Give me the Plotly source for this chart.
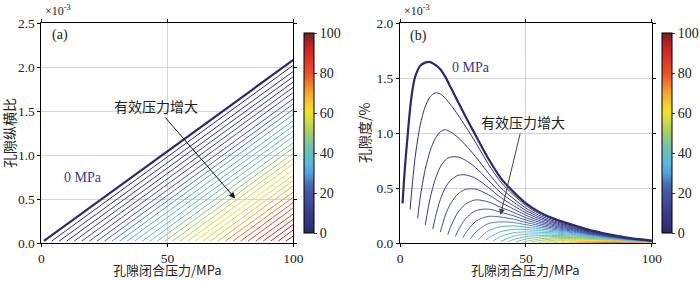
import plotly.graph_objects as go
from plotly.colors import sample_colorscale

# ---------------- data ----------------
eff_pressure = [0, 3, 6, 9, 12, 15, 18, 21, 24, 27, 30, 33, 36, 39, 42, 45, 48, 51,
                54, 57, 60, 63, 66, 69, 72, 75, 78, 81, 84, 87, 90, 93, 96, 99]
start_pc = [1, 4, 7, 10, 13, 16, 19, 22, 25, 28, 31, 34, 37, 40, 43, 46, 49, 52,
            55, 58, 61, 64, 67, 70, 73, 76, 79, 82, 85, 88, 91, 94, 97, 100]

# (a) aspect ratio (x1e-3): value at start_pc and at Pc = 100
alpha_start = [0.025, 0.021, 0.021, 0.021, 0.021, 0.021, 0.021, 0.021, 0.021,
               0.021, 0.021, 0.021, 0.021, 0.021, 0.021, 0.021, 0.021, 0.021,
               0.021, 0.021, 0.021, 0.021, 0.021, 0.021, 0.021, 0.021, 0.021,
               0.021, 0.021, 0.021, 0.021, 0.021, 0.021, 0.021]
alpha_end = [2.08, 2.02, 1.95, 1.89, 1.83, 1.77, 1.71, 1.64, 1.58, 1.52, 1.46, 1.39,
             1.33, 1.27, 1.21, 1.14, 1.08, 1.02, 0.96, 0.90, 0.83, 0.77, 0.71, 0.65,
             0.58, 0.52, 0.46, 0.40, 0.33, 0.27, 0.21, 0.15, 0.08, 0.02]

# (b) porosity (x1e-3 %): first point at start_pc, then values on the last
# len(row) points of phi_grid
phi_grid = [2, 3, 4, 5, 6, 8, 10, 12, 14, 16, 18, 20, 23, 26, 30, 35, 40, 45, 50,
            55, 60, 65, 70, 75, 80, 85, 90, 95, 100]
phi_start = [0.36, 0.305, 0.224, 0.164, 0.126, 0.099, 0.077, 0.060, 0.048, 0.038,
             0.030, 0.024, 0.019, 0.015, 0.012, 0.0096, 0.0078, 0.0063, 0.0052,
             0.0043, 0.0037, 0.0031, 0.0026, 0.0022, 0.0018, 0.0015, 0.0012, 0.0010,
             0.0008, 0.0007, 0.0005, 0.0004, 0.0003, 0.0002]
phi_rows = [
    [0.70, 0.97, 1.22, 1.40, 1.51, 1.61, 1.64, 1.645, 1.62, 1.58, 1.51, 1.42, 1.285, 1.15,
     0.98, 0.77, 0.59, 0.465, 0.36, 0.285, 0.232, 0.19, 0.155, 0.12, 0.093, 0.07, 0.05, 0.035, 0.022],
    [0.56, 0.78, 1.07, 1.24, 1.33, 1.365, 1.355, 1.315, 1.26, 1.165, 1.06, 0.915, 0.72, 0.555,
     0.438, 0.34, 0.27, 0.221, 0.181, 0.148, 0.115, 0.090, 0.068, 0.048, 0.034, 0.021],
    [0.41, 0.67, 0.84, 0.95, 1.01, 1.03, 1.01, 0.96, 0.89, 0.785, 0.638, 0.502, 0.403, 0.317,
     0.254, 0.209, 0.172, 0.142, 0.110, 0.086, 0.065, 0.047, 0.033, 0.021],
    [0.411, 0.579, 0.691, 0.755, 0.781, 0.782, 0.752, 0.686, 0.572, 0.457, 0.372, 0.295, 0.238,
     0.197, 0.164, 0.135, 0.106, 0.083, 0.063, 0.045, 0.032, 0.020],
    [0.231, 0.395, 0.503, 0.568, 0.615, 0.619, 0.588, 0.506, 0.413, 0.341, 0.274, 0.223, 0.186,
     0.155, 0.128, 0.101, 0.079, 0.060, 0.043, 0.031, 0.019],
    [0.252, 0.355, 0.447, 0.487, 0.490, 0.440, 0.369, 0.310, 0.252, 0.207, 0.174, 0.146, 0.122,
     0.096, 0.076, 0.058, 0.042, 0.029, 0.019],
    [0.142, 0.279, 0.354, 0.392, 0.374, 0.325, 0.279, 0.230, 0.192, 0.162, 0.137, 0.115, 0.091,
     0.072, 0.055, 0.040, 0.028, 0.018],
    [0.112, 0.221, 0.294, 0.308, 0.280, 0.248, 0.209, 0.176, 0.151, 0.129, 0.109, 0.086, 0.069,
     0.053, 0.038, 0.027, 0.017],
    [0.088, 0.196, 0.242, 0.236, 0.217, 0.187, 0.161, 0.139, 0.120, 0.102, 0.082, 0.065, 0.050,
     0.037, 0.026, 0.017],
    [0.098, 0.176, 0.192, 0.186, 0.166, 0.145, 0.128, 0.111, 0.095, 0.077, 0.062, 0.048, 0.035,
     0.025, 0.016],
    [0.110, 0.148, 0.155, 0.144, 0.130, 0.116, 0.102, 0.089, 0.072, 0.058, 0.045, 0.033, 0.024, 0.015],
    [0.044, 0.103, 0.124, 0.122, 0.114, 0.104, 0.094, 0.082, 0.067, 0.055, 0.043, 0.032, 0.023, 0.015],
    [0.059, 0.093, 0.101, 0.098, 0.093, 0.085, 0.075, 0.062, 0.051, 0.040, 0.030, 0.022, 0.014],
    [0.062, 0.079, 0.083, 0.081, 0.076, 0.069, 0.058, 0.048, 0.038, 0.028, 0.021, 0.013],
    [0.031, 0.058, 0.067, 0.070, 0.067, 0.062, 0.053, 0.044, 0.035, 0.027, 0.020, 0.013],
    [0.036, 0.052, 0.058, 0.058, 0.055, 0.048, 0.041, 0.033, 0.025, 0.018, 0.012],
    [0.0144, 0.036, 0.046, 0.050, 0.049, 0.043, 0.037, 0.030, 0.023, 0.017, 0.011],
    [0.021, 0.035, 0.041, 0.042, 0.038, 0.034, 0.028, 0.022, 0.016, 0.011],
    [0.023, 0.032, 0.035, 0.034, 0.030, 0.026, 0.020, 0.015, 0.010],
    [0.0116, 0.023, 0.029, 0.029, 0.027, 0.023, 0.018, 0.014, 0.0095],
    [0.0146, 0.022, 0.024, 0.023, 0.021, 0.017, 0.013, 0.0088],
    [0.0058, 0.0155, 0.019, 0.020, 0.018, 0.015, 0.012, 0.0081],
    [0.0089, 0.0144, 0.0163, 0.0156, 0.0133, 0.0107, 0.0075],
    [0.0096, 0.0128, 0.0132, 0.0117, 0.0096, 0.0068],
    [0.0048, 0.0093, 0.0107, 0.010, 0.0085, 0.0062],
    [0.0058, 0.0082, 0.0083, 0.0074, 0.0055],
    [0.0023, 0.0058, 0.0067, 0.0063, 0.0048],
    [0.0033, 0.005, 0.0052, 0.0042],
    [0.0033, 0.0041, 0.0035],
    [0.0017, 0.0029, 0.0029],
    [0.0018, 0.0022],
    [0.0007, 0.0015],
    [0.0009],
    [],
]

cbar_ticks = [0, 20, 40, 60, 80, 100]
x_ticks = [0, 50, 100]

colorscale = [
    [0.00, "#2b2a6b"], [0.10, "#393d8a"], [0.20, "#4656a3"], [0.25, "#4a70b8"],
    [0.30, "#55a2d9"], [0.35, "#5cb8df"], [0.40, "#68bdbb"], [0.45, "#80c49a"],
    [0.50, "#a2cb68"], [0.55, "#cbd847"], [0.60, "#f0e42a"], [0.65, "#f5c832"],
    [0.70, "#f4a432"], [0.75, "#ee7a2e"], [0.80, "#e8502c"], [0.90, "#d42a28"],
    [0.95, "#b02424"], [1.00, "#6e2222"],
]

SERIF = "Liberation Serif, Times New Roman, Noto Sans CJK SC, serif"
CJK = "Noto Sans CJK SC, Liberation Serif, serif"

fig = go.Figure()

order = list(range(len(eff_pressure)))[::-1]

# ---------------- panel (a) ----------------
for i in order:
    col = sample_colorscale(colorscale, [eff_pressure[i] / 100])[0]
    fig.add_trace(go.Scatter(
        x=[start_pc[i], 100], y=[alpha_start[i], alpha_end[i]],
        mode="lines", line=dict(color=col, width=2.2 if i == 0 else 1),
        xaxis="x", yaxis="y", showlegend=False, hoverinfo="skip"))

# ---------------- panel (b) ----------------
for i in order:
    row = phi_rows[i]
    col = sample_colorscale(colorscale, [eff_pressure[i] / 100])[0]
    xs = [start_pc[i]] + (phi_grid[len(phi_grid) - len(row):] if row else [])
    ys = [phi_start[i]] + row
    fig.add_trace(go.Scatter(
        x=xs, y=ys, mode="lines",
        line=dict(color=col, width=2.2 if i == 0 else 1, shape="spline", smoothing=0.8),
        xaxis="x2", yaxis="y2", showlegend=False, hoverinfo="skip"))

# colorbar carriers (outside the visible ranges)
fig.add_trace(go.Scatter(x=[-50], y=[-1], mode="markers", xaxis="x", yaxis="y",
                         marker=dict(color=[0], coloraxis="coloraxis", size=1),
                         showlegend=False, hoverinfo="skip"))
fig.add_trace(go.Scatter(x=[-50], y=[-1], mode="markers", xaxis="x2", yaxis="y2",
                         marker=dict(color=[0], coloraxis="coloraxis2", size=1),
                         showlegend=False, hoverinfo="skip"))

W, H = 700, 281
y0, y1 = (H - 243) / H, (H - 23) / H
xa = (41.7 / W, 295 / W)
xb = (402.3 / W, 655.7 / W)

axis_common = dict(showline=True, linecolor="black", linewidth=1, mirror="ticks",
                   ticks="outside", ticklen=3, tickcolor="black", zeroline=False,
                   tickfont=dict(family=SERIF, size=13.5, color="#222"), automargin=False)


def cbar(xpos):
    return dict(x=xpos, xanchor="left", xpad=0, y=y0, yanchor="bottom", len=y1 - y0,
                lenmode="fraction", thickness=10, outlinewidth=1, outlinecolor="black",
                ticks="outside", ticklen=3, tickvals=cbar_ticks,
                tickfont=dict(family=SERIF, size=14, color="#222"))


fig.update_layout(
    width=W, height=H, margin=dict(l=0, r=0, t=0, b=0),
    paper_bgcolor="white", plot_bgcolor="white",
    xaxis=dict(domain=list(xa), range=[0, 100], tickvals=x_ticks, anchor="y",
               showgrid=True, gridcolor="#d6d6d6", **axis_common),
    yaxis=dict(domain=[y0, y1], range=[0, 2.5], dtick=0.5, tickformat=".1f", anchor="x",
               showgrid=True, gridcolor="#d6d6d6", **axis_common),
    xaxis2=dict(domain=list(xb), range=[0, 100], tickvals=x_ticks, anchor="y2",
                showgrid=True, gridcolor="#dccfd2", **axis_common),
    yaxis2=dict(domain=[y0, y1], range=[0, 2.0], dtick=0.5, tickformat=".1f", anchor="x2",
                showgrid=True, gridcolor="#dccfd2", **axis_common),
    coloraxis=dict(colorscale=colorscale, cmin=0, cmax=100, colorbar=cbar(306 / W)),
    coloraxis2=dict(colorscale=colorscale, cmin=0, cmax=100, colorbar=cbar(666 / W)),
)

ann = []


def txt(x, y, s, xref="paper", yref="paper", size=14, color="#222", family=CJK,
        xanchor="center", yanchor="middle", angle=0):
    ann.append(dict(x=x, y=y, xref=xref, yref=yref, text=s, showarrow=False,
                    font=dict(family=family, size=size, color=color),
                    xanchor=xanchor, yanchor=yanchor, textangle=angle))


# axis titles (bottom-anchored at the lower page edge)
txt((xa[0] + xa[1]) / 2, 0.0, "孔隙闭合压力/MPa", size=13, yanchor="bottom")
txt((xb[0] + xb[1]) / 2, 0.0, "孔隙闭合压力/MPa", size=13, yanchor="bottom")
txt(9 / W, (H - 133) / H, "孔隙纵横比", angle=-90)
txt(366 / W, (H - 133) / H, "孔隙度/%", angle=-90)
# exponent labels
txt(43 / W, (H - 11) / H, "×10<sup>-3</sup>", family=SERIF, size=12, xanchor="left")
txt(404 / W, (H - 11) / H, "×10<sup>-3</sup>", family=SERIF, size=12, xanchor="left")
# panel tags
txt(50 / W, (H - 35) / H, "(a)", family=SERIF, xanchor="left")
txt(410 / W, (H - 36) / H, "(b)", family=SERIF, xanchor="left")
# 0 MPa labels
txt(16.5, 0.74, "0 MPa", xref="x", yref="y", family=SERIF, color="#3a3a8c")
txt(28.3, 1.594, "0 MPa", xref="x2", yref="y2", family=SERIF, color="#3a3a8c")

# "effective pressure increases" labels with arrows
ann.append(dict(x=76.9, y=0.507, ax=45.3, ay=1.555, xref="x", yref="y", axref="x", ayref="y",
                text="有效压力增大", font=dict(family=CJK, size=14, color="#222"),
                showarrow=True, arrowhead=2, arrowsize=1.2, arrowwidth=1, arrowcolor="#111"))
ann.append(dict(x=39.9, y=0.255, ax=48.8, ay=1.10, xref="x2", yref="y2", axref="x2", ayref="y2",
                text="有效压力增大", font=dict(family=CJK, size=14, color="#222"),
                showarrow=True, arrowhead=2, arrowsize=1.2, arrowwidth=1, arrowcolor="#444"))

fig.update_layout(annotations=ann)
fig.write_html("out.html", config={"displayModeBar": False},
               post_script="document.body.style.margin='0';")
